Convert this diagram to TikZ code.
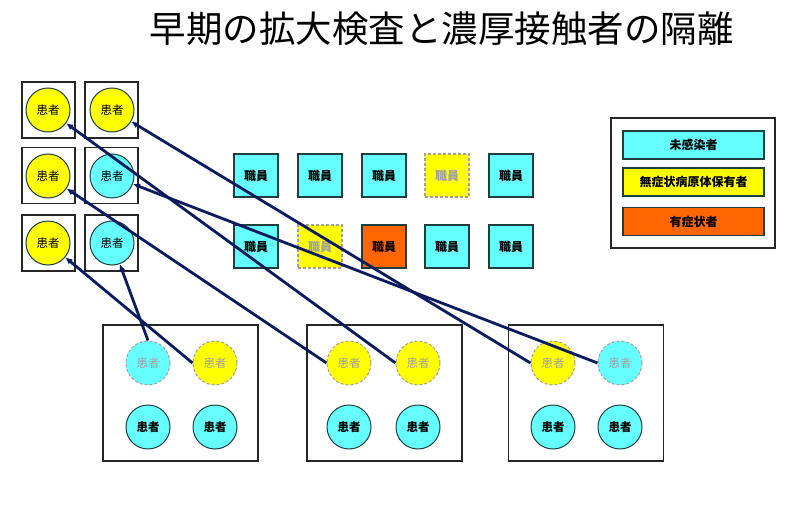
\documentclass[tikz,border=0pt]{standalone}
\usepackage{fontspec}
\setmainfont{Noto Sans CJK JP}
\usetikzlibrary{arrows.meta}
\definecolor{cy}{HTML}{66FFFF}
\definecolor{ye}{HTML}{FFFF00}
\definecolor{og}{HTML}{FF6600}
\definecolor{nv}{HTML}{0B1B5E}
\definecolor{gr}{HTML}{A0A0A0}
\definecolor{edge}{HTML}{1F3F3F}
\begin{document}
\begin{tikzpicture}[x=1pt,y=-1pt,
  pat/.style={circle, draw=edge, line width=1pt, minimum size=44pt, inner sep=0pt, font=\fontsize{11.5}{11.5}\selectfont},
  cpat/.style={pat, fill=cy},
  ypat/.style={pat, fill=ye},
  hid/.style={draw=gr, text=gr, dash pattern=on 3pt off 2pt},
  strong/.style={font=\fontsize{11.5}{11.5}\selectfont\bfseries},
  staff/.style={rectangle, draw=edge, line width=1.2pt, minimum width=44pt, minimum height=43pt, inner sep=0pt, fill=cy, font=\fontsize{12}{12}\selectfont\bfseries},
  bed/.style={rectangle, draw=black!85, line width=1.6pt, minimum width=53pt, minimum height=56pt, inner sep=0pt},
  room/.style={rectangle, draw=black!85, line width=1.6pt, minimum width=155pt, minimum height=136pt, inner sep=0pt},
  legbox/.style={rectangle, draw=black!85, line width=1.6pt, minimum width=164pt, minimum height=130pt, inner sep=0pt},
  legbar/.style={rectangle, draw=edge, line width=1.2pt, minimum width=141pt, minimum height=28pt, inner sep=0pt, font=\fontsize{12}{12}\selectfont\bfseries},
  ttl/.style={font=\fontsize{36.5}{40}\selectfont, inner sep=0pt},
  link/.style={draw=nv, line width=2.8pt, -{Latex[length=7pt,width=6.5pt]}}
]
\useasboundingbox (0,0) rectangle (811,505);
% title
\node[ttl] (title) at (441.5,29) {早期の拡大検査と濃厚接触者の隔離};
% isolation beds
\node[bed] (k11) at (48.5,110) {};
\node[bed] (k12) at (111.5,110) {};
\node[bed] (k21) at (48.5,175.5) {};
\node[bed] (k22) at (111.5,175.5) {};
\node[bed] (k31) at (48.5,243) {};
\node[bed] (k32) at (111.5,243) {};
\node[ypat] (b11) at (48,110) {患者};
\node[ypat] (b12) at (112,110) {患者};
\node[ypat] (b21) at (48,176) {患者};
\node[cpat] (b22) at (112,176) {患者};
\node[ypat] (b31) at (48,243) {患者};
\node[cpat] (b32) at (112,243) {患者};
% staff
\node[staff] (s11) at (256,175.5) {職員};
\node[staff] (s12) at (320,175.5) {職員};
\node[staff] (s13) at (384,175.5) {職員};
\node[staff, fill=ye, hid] (s14) at (447,175.5) {職員};
\node[staff] (s15) at (511,175.5) {職員};
\node[staff] (s21) at (256,246.5) {職員};
\node[staff, fill=ye, hid] (s22) at (320,246.5) {職員};
\node[staff, fill=og] (s23) at (384,246.5) {職員};
\node[staff] (s24) at (447,246.5) {職員};
\node[staff] (s25) at (511,246.5) {職員};
% legend
\node[legbox] (leg) at (693,183) {};
\node[legbar, fill=cy] (l1) at (693.5,145) {未感染者};
\node[legbar, fill=ye] (l2) at (693.5,182) {無症状病原体保有者};
\node[legbar, fill=og] (l3) at (693.5,221.5) {有症状者};
% rooms
\node[room] (rm1) at (180.5,393) {};
\node[room] (rm2) at (384.5,393) {};
\node[room] (rm3) at (586,393) {};
\node[cpat, hid] (r1a) at (148,363) {患者};
\node[ypat, hid] (r1b) at (215,363) {患者};
\node[cpat, strong] (r1c) at (148,427) {患者};
\node[cpat, strong] (r1d) at (215,427) {患者};
\node[ypat, hid] (r2a) at (349,363) {患者};
\node[ypat, hid] (r2b) at (418,363) {患者};
\node[cpat, strong] (r2c) at (349,427) {患者};
\node[cpat, strong] (r2d) at (418,427) {患者};
\node[ypat, hid] (r3a) at (553,363) {患者};
\node[cpat, hid] (r3b) at (620,363) {患者};
\node[cpat, strong] (r3c) at (553,427) {患者};
\node[cpat, strong] (r3d) at (620,427) {患者};
% transfers
\draw[link] (r1a.north) -- (b32);
\draw[link] (r1b.west) -- (b31);
\draw[link] (r2a.west) -- (b21);
\draw[link] (r2b.west) -- (b11);
\draw[link] (r3a.west) -- (b12);
\draw[link] (r3b.west) -- (b22);
\end{tikzpicture}
\end{document}
